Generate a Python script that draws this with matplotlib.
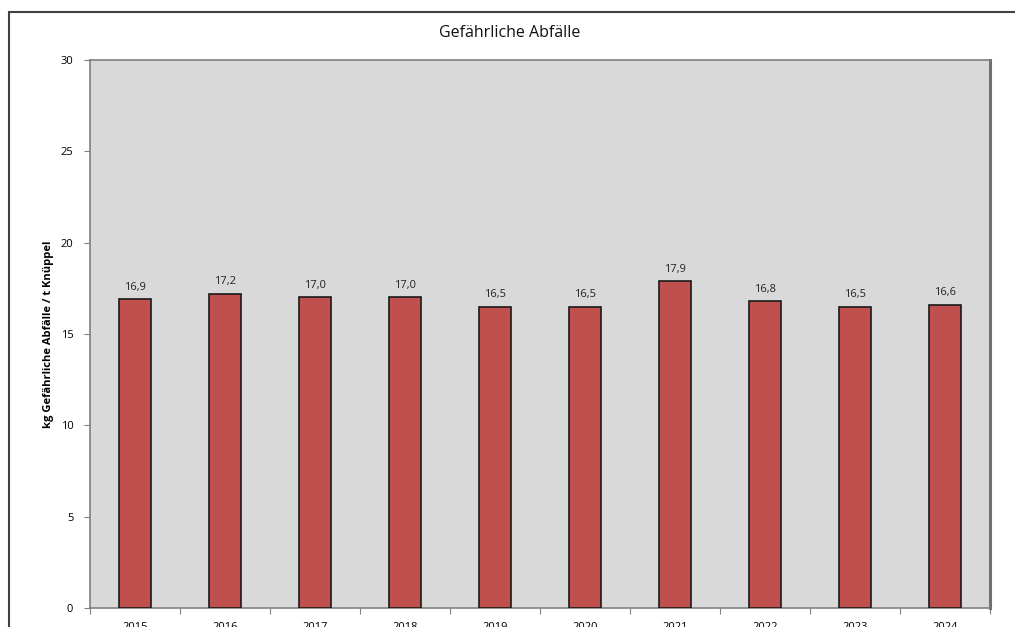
import matplotlib
matplotlib.use("Agg")
import matplotlib.pyplot as plt
from matplotlib.patches import Rectangle

years = ["2015", "2016", "2017", "2018", "2019", "2020", "2021", "2022", "2023", "2024"]
values = [16.9, 17.2, 17.0, 17.0, 16.5, 16.5, 17.9, 16.8, 16.5, 16.6]
yticks = [0, 5, 10, 15, 20, 25, 30]

plt.rcParams['font.family'] = ['Open Sans', 'DejaVu Sans']

W, H = 1015, 627
fig = plt.figure(figsize=(W / 100, H / 100), dpi=100)
fig.patch.set_facecolor('white')

# outer chart border
fig.add_artist(Rectangle((9 / W, -0.1), 1.2, (H - 12) / H + 0.1, transform=fig.transFigure,
                         fill=False, edgecolor='#404040', linewidth=1.5))

ax = fig.add_axes([90 / W, (H - 608) / H, 900 / W, 548 / H])
ax.set_facecolor('#d9d9d9')

x = list(range(len(years)))
bars = ax.bar(x, values, width=0.36, color='#c0504d', edgecolor='#1a1a1a', linewidth=1.2, zorder=3)
for xi, v in zip(x, values):
    ax.text(xi, v + 0.35, f"{v:.1f}".replace('.', ','), ha='center', va='bottom',
            fontsize=8, color='#222222')

ax.set_xlim(-0.5, len(years) - 0.5)
ax.set_ylim(0, 30)
ax.set_yticks(yticks)
ax.set_yticklabels([str(t) for t in yticks], fontsize=8)
ax.set_xticks([i - 0.5 for i in range(len(years) + 1)], minor=False)
ax.set_xticklabels([])
ax.set_xticks(x, minor=True)
ax.set_xticklabels(years, minor=True, fontsize=8)
ax.tick_params(axis='x', which='minor', length=0, pad=10)
ax.tick_params(axis='x', which='major', length=4, color='#808080', direction='out')
ax.tick_params(axis='y', length=4, color='#808080', direction='out', pad=8)

for s in ['left', 'top', 'bottom']:
    ax.spines[s].set_color('#808080')
    ax.spines[s].set_linewidth(1.2)
ax.spines['right'].set_color('#707070')
ax.spines['right'].set_linewidth(2.2)

ax.set_ylabel("kg Gefährliche Abfälle / t Knüppel", fontsize=8, fontweight='bold', labelpad=5)
fig.text(510 / W, 1 - 33 / H, "Gefährliche Abfälle", ha='center', va='center', fontsize=11.5, color='#111111')

fig.savefig("out.png", dpi=100)
